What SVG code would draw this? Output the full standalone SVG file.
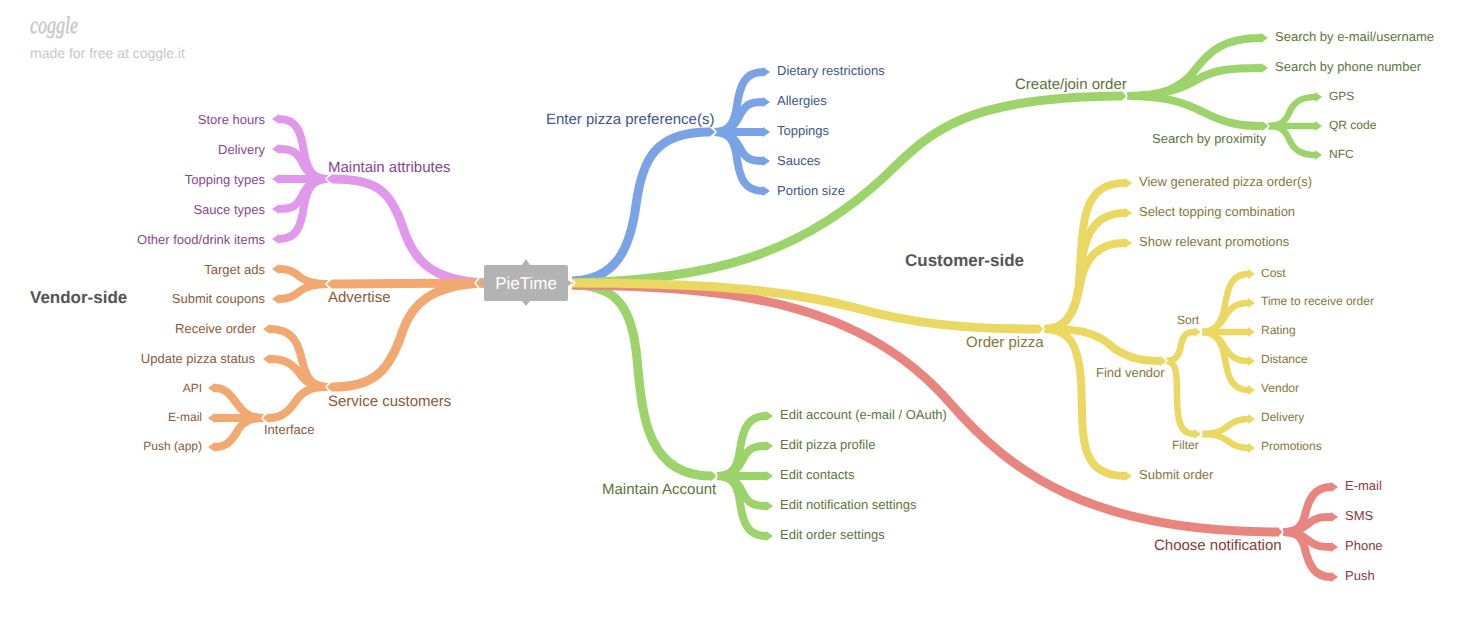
<svg xmlns="http://www.w3.org/2000/svg" width="1470" height="618" viewBox="0 0 1470 618">
<style>
text{font-family:"Liberation Sans",Arial,sans-serif;font-size:13px;text-rendering:geometricPrecision}
.e{text-anchor:end}
.l1{font-size:15px}
.l4{font-size:12px}
.pu{fill:#85478f}.or{fill:#8a5a3a}.bl{fill:#3c5688}.gr{fill:#5a743c}.ye{fill:#85763a}.re{fill:#853c3b}
path.c{fill:none;stroke-width:8}
path.t{stroke-width:9}
path.d{stroke-width:6.5}
.P{stroke:#e098ea;marker-end:url(#mP)}.O{stroke:#f2a871;marker-end:url(#mO)}.B{stroke:#7aa3e6;marker-end:url(#mB)}.G{stroke:#9cd46b;marker-end:url(#mG)}.Y{stroke:#ebd863;marker-end:url(#mY)}.R{stroke:#e8857f;marker-end:url(#mR)}
.j{fill:none;stroke:#fff;stroke-width:1.5}
.s{font-size:17px;font-weight:bold;fill:#555}
</style>
<defs>
<marker id="mP" markerUnits="userSpaceOnUse" markerWidth="10" markerHeight="12" refX="0" refY="6" orient="auto"><path d="M0,1L7,6L0,11Z" fill="#e098ea"/></marker>
<marker id="mO" markerUnits="userSpaceOnUse" markerWidth="10" markerHeight="12" refX="0" refY="6" orient="auto"><path d="M0,1L7,6L0,11Z" fill="#f2a871"/></marker>
<marker id="mB" markerUnits="userSpaceOnUse" markerWidth="10" markerHeight="12" refX="0" refY="6" orient="auto"><path d="M0,1L7,6L0,11Z" fill="#7aa3e6"/></marker>
<marker id="mG" markerUnits="userSpaceOnUse" markerWidth="10" markerHeight="12" refX="0" refY="6" orient="auto"><path d="M0,1L7,6L0,11Z" fill="#9cd46b"/></marker>
<marker id="mY" markerUnits="userSpaceOnUse" markerWidth="10" markerHeight="12" refX="0" refY="6" orient="auto"><path d="M0,1L7,6L0,11Z" fill="#ebd863"/></marker>
<marker id="mR" markerUnits="userSpaceOnUse" markerWidth="10" markerHeight="12" refX="0" refY="6" orient="auto"><path d="M0,1L7,6L0,11Z" fill="#e8857f"/></marker>
</defs>
<g id="connectors">
<path class="c t P" d="M484,283C430,280 413,260 402,225C390,190 375,179 333,179"/>
<path class="c t O" d="M484,283C430,285 412,305 403,330C390,370 375,387 333,387"/>
<path class="c t O" d="M484,283L333,284"/>
<path class="c t B" d="M572,281C615,280 630,250 636,205C642,160 655,132 709,132"/>
<path class="c t G" d="M572,283C710,280 800,255 884,177C930,133 960,97 1121,96"/>
<path class="c t G" d="M572,285C610,285 630,300 636,350C642,400 640,476 711,476"/>
<path class="c t R" d="M572,285C730,287 860,300 950,403C1010,472 1090,532 1278,532"/>
<path class="c t Y" d="M572,283C690,283 780,288 856,308C910,323 960,329 1038,329"/>
<path class="c P" d="M328,179C312,179 307,169 304,152C301,132 297,119 279,119"/>
<path class="c P" d="M328,179C312,179 307,172 302,162C297,152 292,149 279,149"/>
<path class="c P" d="M328,179L279,179"/>
<path class="c P" d="M328,179C312,179 307,186 302,196C297,206 292,209 279,209"/>
<path class="c P" d="M328,179C312,179 307,189 304,206C301,226 297,239 279,239"/>
<path class="c O" d="M328,284C312,284 305,281 300,277C293,271 288,269 279,269"/>
<path class="c O" d="M328,284C312,284 305,287 300,291C293,297 288,299 279,299"/>
<path class="c O" d="M328,387C312,387 306,378 302,360C298,342 292,329 270,329"/>
<path class="c O" d="M328,387C312,387 306,382 300,374C293,364 285,359 270,359"/>
<path class="c O" d="M328,387C312,387 305,390 298,398C290,410 283,418 269,418"/>
<path class="c O" d="M264,418C250,418 245,414 238,405C230,394 225,388 215,388"/>
<path class="c O" d="M264,418L215,418"/>
<path class="c O" d="M264,418C250,418 243,422 238,430C232,441 226,447 215,447"/>
<path class="c B" d="M714,132C730,132 735,122 737,105C740,85 745,72 763,72"/>
<path class="c B" d="M714,132C730,132 735,125 740,115C745,105 750,102 763,102"/>
<path class="c B" d="M714,132L763,132"/>
<path class="c B" d="M714,132C730,132 735,139 740,148C745,158 750,161 763,161"/>
<path class="c B" d="M714,132C730,132 735,142 737,159C740,179 745,191 763,191"/>
<path class="c G" d="M1127,96C1160,96 1180,90 1195,70C1210,50 1225,38 1261,38"/>
<path class="c G" d="M1127,96C1160,96 1180,90 1200,78C1215,70 1230,68 1261,68"/>
<path class="c G" d="M1127,96C1160,96 1180,100 1205,113C1225,123 1240,126 1262,126"/>
<path class="c d G" d="M1268,126C1280,126 1285,122 1289,113C1293,103 1300,97 1315,97"/>
<path class="c d G" d="M1268,126L1315,126"/>
<path class="c d G" d="M1268,126C1280,126 1285,130 1289,139C1293,149 1300,155 1315,155"/>
<path class="c Y" d="M1044,329C1065,329 1075,315 1079,285C1083,225 1080,183 1125,183"/>
<path class="c Y" d="M1044,329C1065,329 1075,315 1079,285C1082,245 1088,213 1125,213"/>
<path class="c Y" d="M1044,329C1065,329 1075,315 1080,285C1084,262 1095,243 1125,243"/>
<path class="c Y" d="M1044,329C1075,329 1095,330 1115,349C1130,358 1140,361 1160,361"/>
<path class="c Y" d="M1044,329C1070,329 1078,345 1081,380C1084,430 1075,476 1125,476"/>
<path class="c d Y" d="M1166,361C1176,361 1179,355 1181,345C1183,336 1186,332 1194,332"/>
<path class="c d Y" d="M1166,361C1176,361 1177,372 1177,395C1177,420 1180,434 1194,434"/>
<path class="c d Y" d="M1202,332C1214,332 1222,325 1225,305C1228,285 1233,274 1248,274"/>
<path class="c d Y" d="M1202,332C1214,332 1220,325 1224,318C1230,308 1236,303 1248,303"/>
<path class="c d Y" d="M1202,332L1248,332"/>
<path class="c d Y" d="M1202,332C1214,332 1220,339 1224,346C1230,356 1236,361 1248,361"/>
<path class="c d Y" d="M1202,332C1214,332 1222,339 1225,359C1228,379 1233,390 1248,390"/>
<path class="c d Y" d="M1202,434C1216,434 1222,431 1228,426C1234,421 1240,419 1248,419"/>
<path class="c d Y" d="M1202,434C1216,434 1222,437 1228,441C1234,446 1240,448 1248,448"/>
<path class="c G" d="M717,476C733,476 738,466 740,449C743,429 748,416 766,416"/>
<path class="c G" d="M717,476C733,476 738,469 743,459C748,449 753,446 766,446"/>
<path class="c G" d="M717,476L766,476"/>
<path class="c G" d="M717,476C733,476 738,483 743,493C748,503 753,506 766,506"/>
<path class="c G" d="M717,476C733,476 738,486 740,503C743,523 748,536 766,536"/>
<path class="c R" d="M1283,532C1295,532 1302,528 1305,515C1309,498 1315,487 1331,487"/>
<path class="c R" d="M1283,532C1297,532 1303,528 1308,524C1315,518 1320,517 1331,517"/>
<path class="c R" d="M1283,532C1297,532 1303,536 1308,540C1315,546 1320,547 1331,547"/>
<path class="c R" d="M1283,532C1295,532 1302,536 1305,549C1309,566 1315,577 1331,577"/>
<path class="j" d="M330,174L326,179L330,184M330,279L326,284L330,289M330,382L326,387L330,392M266,413L262,418L266,423M712,127L716,132L712,137M1123,91L1127,96L1123,101M1265,121L1269,126L1265,131M1040,324L1044,329L1040,334M1163,356L1167,361L1163,366M1198,327L1202,332L1198,337M1198,429L1202,434L1198,439M713,471L717,476L713,481M1279,527L1283,532L1279,537"/>
</g>
<g id="root"><path d="M486,265H522L526,259L530,265H566Q568,265 568,267V280L572,283L568,286V299Q568,301 566,301H530L526,306L522,301H486Q484,301 484,299V286L480,283L484,280V267Q484,265 486,265Z" fill="#b3b3b3"/>
<path class="j" d="M479,278L475,283L479,288M570,278L575,283L570,288"/>
<text x="526" y="289" text-anchor="middle" style="font-size:17px" fill="#fff">PieTime</text></g>
<g id="logo"><text x="30" y="33" textLength="48" lengthAdjust="spacingAndGlyphs" style="font-family:'Liberation Serif',serif;font-size:24px;font-style:italic" fill="#c8c8c8" stroke="#c8c8c8" stroke-width=".5">coggle</text><text x="30" y="58" style="font-size:14px" fill="#c8c8c8">made for free at coggle.it</text></g>
<g id="sections"><text class="s" x="30" y="303">Vendor-side</text><text class="s" x="905" y="266">Customer-side</text></g>
<g id="vendor">
<text class="l1 pu" x="328" y="172">Maintain attributes</text>
<text class="pu e" x="265" y="124">Store hours</text><text class="pu e" x="265" y="154">Delivery</text><text class="pu e" x="265" y="184">Topping types</text><text class="pu e" x="265" y="214">Sauce types</text><text class="pu e" x="265" y="244">Other food/drink items</text>
<text class="l1 or" x="328" y="302">Advertise</text>
<text class="or e" x="265" y="274">Target ads</text><text class="or e" x="265" y="303">Submit coupons</text>
<text class="l1 or" x="328" y="406">Service customers</text>
<text class="or e" x="256" y="333">Receive order</text><text class="or e" x="255" y="363">Update pizza status</text>
<text class="or" x="264" y="434">Interface</text>
<text class="or e l4" x="202" y="392">API</text><text class="or e l4" x="202" y="421">E-mail</text><text class="or e l4" x="202" y="450">Push (app)</text>
</g>
<g id="preferences">
<text class="l1 bl" x="546" y="124">Enter pizza preference(s)</text>
<text class="bl" x="777" y="75">Dietary restrictions</text><text class="bl" x="777" y="105">Allergies</text><text class="bl" x="777" y="135">Toppings</text><text class="bl" x="777" y="165">Sauces</text><text class="bl" x="777" y="195">Portion size</text>
</g>
<g id="account">
<text class="l1 gr" x="602" y="494">Maintain Account</text>
<text class="gr" x="780" y="419">Edit account (e-mail / OAuth)</text><text class="gr" x="780" y="449">Edit pizza profile</text><text class="gr" x="780" y="479">Edit contacts</text><text class="gr" x="780" y="509">Edit notification settings</text><text class="gr" x="780" y="539">Edit order settings</text>
</g>
<g id="join">
<text class="l1 gr" x="1015" y="89">Create/join order</text>
<text class="gr" x="1275" y="41">Search by e-mail/username</text><text class="gr" x="1275" y="71">Search by phone number</text>
<text class="gr" x="1152" y="143">Search by proximity</text>
<text class="gr l4" x="1329" y="100">GPS</text><text class="gr l4" x="1329" y="129">QR code</text><text class="gr l4" x="1329" y="158">NFC</text>
</g>
<g id="order">
<text class="l1 ye" x="966" y="347">Order pizza</text>
<text class="ye" x="1139" y="186">View generated pizza order(s)</text><text class="ye" x="1139" y="216">Select topping combination</text><text class="ye" x="1139" y="246">Show relevant promotions</text>
<text class="ye" x="1096" y="377">Find vendor</text><text class="ye" x="1139" y="479">Submit order</text>
<text class="ye l4" x="1177" y="324">Sort</text><text class="ye l4" x="1172" y="449">Filter</text>
<text class="ye l4" x="1261" y="277">Cost</text><text class="ye l4" x="1261" y="305">Time to receive order</text><text class="ye l4" x="1261" y="334">Rating</text><text class="ye l4" x="1261" y="363">Distance</text><text class="ye l4" x="1261" y="392">Vendor</text><text class="ye l4" x="1261" y="421">Delivery</text><text class="ye l4" x="1261" y="450">Promotions</text>
</g>
<g id="notify">
<text class="l1 re" x="1154" y="550">Choose notification</text>
<text class="re" x="1345" y="490">E-mail</text><text class="re" x="1345" y="520">SMS</text><text class="re" x="1345" y="550">Phone</text><text class="re" x="1345" y="580">Push</text>
</g>
</svg>
